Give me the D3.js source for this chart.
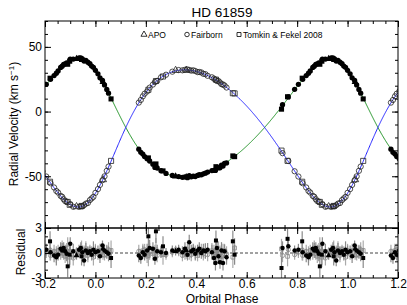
<!DOCTYPE html>
<html>
<head>
<meta charset="utf-8">
<script src="https://cdn.jsdelivr.net/npm/d3@7"></script>
<style>
  body { margin: 0; background: #fff; }
  svg { font-family: 'Liberation Sans', Arial, sans-serif; }
</style>
</head>
<body>
<svg width="407" height="305"></svg>
<script>
const svg = d3.select('svg');

// orbital elements of the fit (phase 0 = periastron)
const ecc = 0.20;
const omegaDeg = 37;
const K1 = 46;
const K2 = 53;
const gamma = -12.3;
const T0 = 0.0;

// observations: [phase, O-C primary, O-C secondary, sigma]
const fairborn = [
  [0.742, 0.6, -0.3, 0.8], [0.765, 0.8, 0.4, 0.7], [0.790, 0.3, -0.2, 0.6], [0.805, 0.4, 0.1, 0.7],
  [0.822, 0.1, -0.3, 0.6], [0.836, -0.3, 0.2, 0.8], [0.845, -0.5, -0.2, 1.0], [0.852, -0.2, 0.3, 0.7],
  [0.862, 0.5, 0.0, 0.8], [0.868, 0.3, 0.6, 0.9], [0.874, 0.6, -0.1, 0.7], [0.880, 0.2, -0.4, 0.8],
  [0.886, -0.1, 0.3, 0.9], [0.900, 1.1, 0.2, 0.8], [0.912, 0.2, -0.6, 0.9], [0.935, 0.4, 0.1, 0.6],
  [0.942, 0.6, 0.3, 0.7], [0.948, 0.1, -0.2, 0.8], [0.955, -0.9, 0.2, 0.7], [0.962, 0.3, 0.5, 0.9],
  [0.970, 0.0, -0.3, 0.8], [0.978, 0.2, 0.4, 0.6], [0.985, -0.2, 0.1, 0.7], [0.992, 0.4, -0.5, 1.0],
  [0.000, 0.1, 0.3, 0.8], [0.010, 0.2, -0.1, 0.7], [0.018, -0.4, 0.3, 0.8], [0.028, 0.9, 0.1, 0.6],
  [0.036, 0.3, -0.2, 0.7], [0.045, 0.1, 0.2, 0.8], [0.052, -0.1, 0.4, 0.9],
  [0.172, -0.3, 0.2, 0.8], [0.180, -0.6, -0.2, 0.7], [0.188, 0.1, 0.3, 0.8], [0.195, -0.2, 0.4, 0.7],
  [0.205, 0.3, -0.4, 0.8], [0.215, 0.6, 0.2, 1.0], [0.228, 0.5, -0.1, 0.8], [0.236, -0.7, 0.3, 0.7],
  [0.245, 0.2, -0.3, 0.8], [0.260, 0.1, 0.2, 0.7], [0.280, 0.0, -0.2, 0.6], [0.305, 0.3, 0.1, 0.6],
  [0.330, 0.4, 0.2, 0.6], [0.345, 0.1, -0.3, 0.7], [0.355, 0.5, 0.0, 0.8], [0.365, -0.2, 0.4, 0.7],
  [0.372, 1.3, 0.1, 0.9], [0.380, 0.2, -0.2, 0.8], [0.388, 0.4, 0.3, 0.7], [0.396, -0.1, 0.1, 0.8],
  [0.405, 0.3, -0.3, 0.7], [0.412, 0.5, 0.2, 0.8], [0.420, 0.0, 0.4, 0.7], [0.428, 0.3, -0.1, 0.8],
  [0.436, 0.2, 0.3, 0.9], [0.445, 0.4, -0.2, 0.8], [0.462, 0.1, 0.3, 0.9], [0.470, -0.6, 0.2, 0.8],
  [0.476, -1.2, 0.0, 0.9], [0.482, 0.6, -0.3, 1.0], [0.488, -0.4, 0.5, 0.9], [0.494, -1.1, 0.1, 0.8],
  [0.500, 0.3, -0.4, 1.0], [0.506, -1.2, 0.2, 0.9], [0.512, 0.2, 0.3, 0.8], [0.520, -0.5, -0.1, 0.9]
];
const tomkin = [
  [0.738, -1.8, 0.5, 1.2], [0.762, 1.7, -0.4, 1.2], [0.820, 1.4, 0.3, 1.2], [0.890, -1.6, 0.6, 1.3],
  [0.898, -0.2, -0.5, 1.2], [0.945, -0.4, 0.4, 1.1], [0.062, -0.6, 0.3, 1.2], [0.210, 2.0, -0.3, 1.3],
  [0.240, 2.6, 0.4, 1.4], [0.268, 0.8, -0.2, 1.2], [0.478, 1.5, 0.3, 1.2], [0.545, 1.4, -0.5, 1.3],
  [0.552, -0.2, 0.6, 1.2]
];
const apo = [
  [0.318, 0.2, 0.4, 0.5], [0.360, 0.3, -0.2, 0.5], [0.925, -0.3, 0.2, 0.5], [0.030, 0.5, -0.3, 0.5]
];

const xTicks = [-0.2, 0, 0.2, 0.4, 0.6, 0.8, 1.0, 1.2];
const rvTicks = [-50, 0, 50];
const resTicks = [-3, 0, 3];
const legendLabels = ['APO', 'Fairborn', 'Tomkin & Fekel 2008'];

const x = d3.scaleLinear().domain([-0.2, 1.2]).range([45, 398]);
const y = d3.scaleLinear().domain([-90, 70]).range([228, 21]);
const yr = d3.scaleLinear().domain([-3, 3]).range([278, 228]);

// keplerian velocity curve
const w1 = omegaDeg * Math.PI / 180;
const w2 = w1 + Math.PI;
const rvModel = (phase, K, w) => {
  const M = 2 * Math.PI * (phase - T0);
  let E = M;
  for (let i = 0; i < 30; i++) {
    E = E - (E - ecc * Math.sin(E) - M) / (1 - ecc * Math.cos(E));
  }
  const nu = 2 * Math.atan2(Math.sqrt(1 + ecc) * Math.sin(E / 2), Math.sqrt(1 - ecc) * Math.cos(E / 2));
  return gamma + K * (Math.cos(nu + w) + ecc * Math.cos(w));
};

// unfold the phases over -0.2 .. 1.2
const points = [];
const addSource = (rows, type) => {
  rows.forEach(r => {
    [-1, 0, 1].forEach(shift => {
      const p = r[0] + shift;
      if (p < -0.21 || p > 1.21) return;
      points.push({
        p: p, type: type, r1: r[1], r2: r[2], s: r[3],
        v1: rvModel(p, K1, w1) + r[1],
        v2: rvModel(p, K2, w2) + r[2]
      });
    });
  });
};
addSource(fairborn, d3.symbolCircle);
addSource(tomkin, d3.symbolSquare);
addSource(apo, d3.symbolTriangle);

const symSize = t => t === d3.symbolSquare ? 26 : 22;

// clip paths
const defs = svg.append('defs');
defs.append('clipPath').attr('id', 'clipMain').append('rect')
  .attr('x', 45).attr('y', 21).attr('width', 353).attr('height', 207);
defs.append('clipPath').attr('id', 'clipRes').append('rect')
  .attr('x', 45).attr('y', 228).attr('width', 353).attr('height', 50);

// model curves
const phases = d3.range(-0.2, 1.2005, 0.002);
const line = d3.line().x(d => x(d[0])).y(d => y(d[1]));
const main = svg.append('g').attr('clip-path', 'url(#clipMain)');
main.append('path')
  .attr('d', line(phases.map(p => [p, rvModel(p, K1, w1)])))
  .attr('fill', 'none').attr('stroke', '#1a9020').attr('stroke-width', 1);
main.append('path')
  .attr('d', line(phases.map(p => [p, rvModel(p, K2, w2)])))
  .attr('fill', 'none').attr('stroke', '#2424ff').attr('stroke-width', 1);

// secondary: open symbols
main.selectAll('path.sec')
  .data(points)
  .enter()
  .append('path')
    .attr('class', 'sec')
    .attr('transform', d => `translate(${x(d.p)},${y(d.v2)})`)
    .attr('d', d => d3.symbol().type(d.type).size(symSize(d.type))())
    .attr('fill', 'none').attr('stroke', '#222').attr('stroke-width', 0.8);

// primary: filled symbols
main.selectAll('path.pri')
  .data(points)
  .enter()
  .append('path')
    .attr('class', 'pri')
    .attr('transform', d => `translate(${x(d.p)},${y(d.v1)})`)
    .attr('d', d => d3.symbol().type(d.type).size(symSize(d.type))())
    .attr('fill', '#000');

// residual panel
const res = svg.append('g').attr('clip-path', 'url(#clipRes)');
res.append('line')
  .attr('x1', x(-0.2)).attr('x2', x(1.2)).attr('y1', yr(0)).attr('y2', yr(0))
  .attr('stroke', '#444').attr('stroke-width', 1).attr('stroke-dasharray', '3,2');

res.selectAll('line.e2')
  .data(points)
  .enter()
  .append('line')
    .attr('class', 'e2')
    .attr('x1', d => x(d.p)).attr('x2', d => x(d.p))
    .attr('y1', d => yr(d.r2 - d.s)).attr('y2', d => yr(d.r2 + d.s))
    .attr('stroke', '#aaa').attr('stroke-width', 1.2);
res.selectAll('path.r2')
  .data(points)
  .enter()
  .append('path')
    .attr('class', 'r2')
    .attr('transform', d => `translate(${x(d.p)},${yr(d.r2)})`)
    .attr('d', d => d3.symbol().type(d.type).size(14)())
    .attr('fill', 'none').attr('stroke', '#888').attr('stroke-width', 0.8);

res.selectAll('line.e1')
  .data(points)
  .enter()
  .append('line')
    .attr('class', 'e1')
    .attr('x1', d => x(d.p)).attr('x2', d => x(d.p))
    .attr('y1', d => yr(d.r1 - d.s)).attr('y2', d => yr(d.r1 + d.s))
    .attr('stroke', '#8a8a8a').attr('stroke-width', 1.2);
res.selectAll('path.r1')
  .data(points)
  .enter()
  .append('path')
    .attr('class', 'r1')
    .attr('transform', d => `translate(${x(d.p)},${yr(d.r1)})`)
    .attr('d', d => d3.symbol().type(d.type).size(16)())
    .attr('fill', '#000');

// axes, ticks pointing inward
const drawAxis = (axis, transform, values, size, fmt) => {
  const g = svg.append('g')
    .attr('transform', transform)
    .call(axis.tickValues(values).tickSize(size).tickPadding(3).tickFormat(fmt || (() => '')));
  g.select('.domain').remove();
  g.attr('font-family', null).attr('font-size', 12);
  g.selectAll('line').attr('stroke', '#000');
  g.selectAll('text').attr('fill', '#000');
  return g;
};
const xMinor = d3.range(-0.2, 1.2001, 0.05);
const rvMinor = d3.range(-90, 70.01, 10);
const resMinor = d3.range(-3, 3.01, 1);

[[21, d3.axisTop], [228, d3.axisBottom], [228, d3.axisTop], [278, d3.axisBottom]].forEach(([yy, ax], i) => {
  drawAxis(ax(x), `translate(0,${yy})`, xMinor, -3);
  const g = drawAxis(ax(x), `translate(0,${yy})`, xTicks, -6, i === 3 ? (d => d.toFixed(1)) : null);
  if (i === 3) g.selectAll('text').attr('dy', '0.62em');
});
drawAxis(d3.axisLeft(y), 'translate(45,0)', rvMinor, -3);
drawAxis(d3.axisLeft(y), 'translate(45,0)', rvTicks, -6, d => String(d));
drawAxis(d3.axisRight(y), 'translate(398,0)', rvMinor, -3);
drawAxis(d3.axisRight(y), 'translate(398,0)', rvTicks, -6);
drawAxis(d3.axisLeft(yr), 'translate(45,0)', resMinor, -3);
drawAxis(d3.axisLeft(yr), 'translate(45,0)', resTicks, -6, d => String(d));
drawAxis(d3.axisRight(yr), 'translate(398,0)', resMinor, -3);
drawAxis(d3.axisRight(yr), 'translate(398,0)', resTicks, -6);

// frames
svg.append('rect').attr('x', 45).attr('y', 21).attr('width', 353).attr('height', 207)
  .attr('fill', 'none').attr('stroke', '#000').attr('stroke-width', 1);
svg.append('rect').attr('x', 45).attr('y', 228).attr('width', 353).attr('height', 50)
  .attr('fill', 'none').attr('stroke', '#000').attr('stroke-width', 1);

// titles
svg.append('text').attr('x', 222).attr('y', 17).attr('text-anchor', 'middle')
  .attr('font-size', 13.5).text('HD 61859');
svg.append('text').attr('x', 222).attr('y', 303).attr('text-anchor', 'middle')
  .attr('font-size', 12).text('Orbital Phase');
const yl = svg.append('text').attr('transform', 'translate(18,124) rotate(-90)')
  .attr('text-anchor', 'middle').attr('font-size', 12);
yl.append('tspan').text('Radial Velocity (km s');
yl.append('tspan').attr('font-size', 8).attr('dy', -4.5).text('\u22121');
yl.append('tspan').attr('dy', 4.5).text(')');
svg.append('text').attr('transform', 'translate(24.5,252) rotate(-90)')
  .attr('text-anchor', 'middle').attr('font-size', 12).text('Residual');

// legend
const legendX = [144, 187, 239];
const legendTypes = [d3.symbolTriangle, d3.symbolCircle, d3.symbolSquare];
legendLabels.forEach((lab, i) => {
  svg.append('path')
    .attr('transform', `translate(${legendX[i]},34.5)`)
    .attr('d', d3.symbol().type(legendTypes[i]).size(16)())
    .attr('fill', 'none').attr('stroke', '#000').attr('stroke-width', 0.8);
  svg.append('text').attr('x', legendX[i] + 4).attr('y', 37.5)
    .attr('font-size', 8.5).text(lab);
});
</script>
</body>
</html>
